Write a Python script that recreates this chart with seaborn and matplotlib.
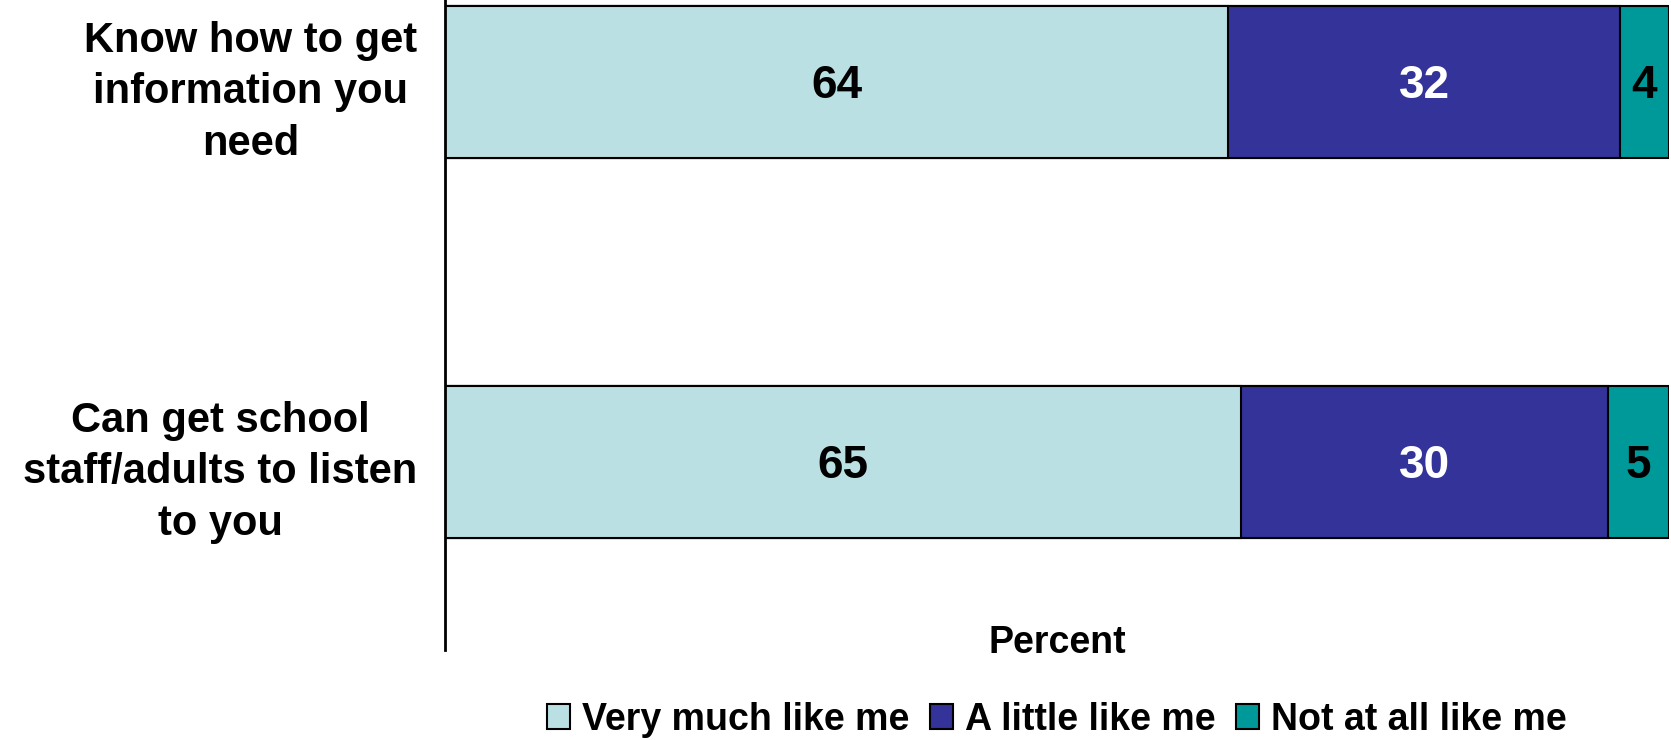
import pandas as pd
import seaborn as sns
import matplotlib.pyplot as plt
from matplotlib.patches import Patch

# data
categories = ['Know how to get\ninformation you\nneed',
              'Can get school\nstaff/adults to listen\nto you']
series_names = ['Very much like me', 'A little like me', 'Not at all like me']
very_much = [64, 65]
a_little = [32, 30]
not_at_all = [4, 5]

colors = ['#BBE0E3', '#333399', '#009999']
text_colors = ['black', 'white', 'black']

sns.set_style('white')
plt.rcParams['font.family'] = ['Liberation Sans', 'DejaVu Sans']
plt.rcParams['font.weight'] = 'bold'
plt.rcParams['text.color'] = 'black'
plt.rcParams['axes.labelcolor'] = 'black'
plt.rcParams['ytick.color'] = 'black'

df = pd.DataFrame({'cat': categories, 'v1': very_much, 'v2': a_little, 'v3': not_at_all})
df['c1'] = df['v1']
df['c2'] = df['v1'] + df['v2']
df['c3'] = df['c2'] + df['v3']

fig = plt.figure(figsize=(16.71, 7.4), dpi=100)
ax = fig.add_axes([445 / 1671, 1 - 650 / 740, 1224 / 1671, 650 / 740])

# stacked bars: draw cumulative totals from the largest down
for col, c in zip(['c3', 'c2', 'c1'], colors[::-1]):
    sns.barplot(data=df, x=col, y='cat', color=c, width=0.4, orient='h',
                edgecolor='black', linewidth=1.5, ax=ax, saturation=1)

# value labels in the middle of each segment
for i, row in df.iterrows():
    starts = [0, row['c1'], row['c2']]
    vals = [row['v1'], row['v2'], row['v3']]
    for s, v, tc in zip(starts, vals, text_colors):
        ax.text(s + v / 2, i + 0.01, str(v), ha='center', va='center',
                fontsize=33, fontweight='bold', color=tc)

ax.set_xlim(0, 100)
ax.set_ylim(1.495, -0.216)
ax.set_ylabel('')
ax.set_xlabel('Percent', fontsize=27, fontweight='bold', va='center')
ax.xaxis.set_label_coords(0.5, 0.011)
ax.set_xticks([])
ax.tick_params(axis='y', length=0, pad=20)
for lab in ax.get_yticklabels():
    lab.set_fontsize(30)
    lab.set_fontweight('bold')
    lab.set_color('black')
    lab.set_multialignment('center')
    lab.set_linespacing(1.38)

sns.despine(ax=ax, top=True, right=True, bottom=True)
ax.spines['left'].set_color('black')
ax.spines['left'].set_linewidth(2)

handles = [Patch(facecolor=c, edgecolor='black', linewidth=1.5) for c in colors]
fig.legend(handles, series_names, loc='center', bbox_to_anchor=(1057 / 1671, 0.027),
           ncol=3, frameon=False, prop={'size': 27, 'weight': 'bold'},
           labelcolor='black',
           handlelength=0.6, handleheight=0.65, handletextpad=0.33, columnspacing=0.55)

plt.savefig('out.png', dpi=100)
